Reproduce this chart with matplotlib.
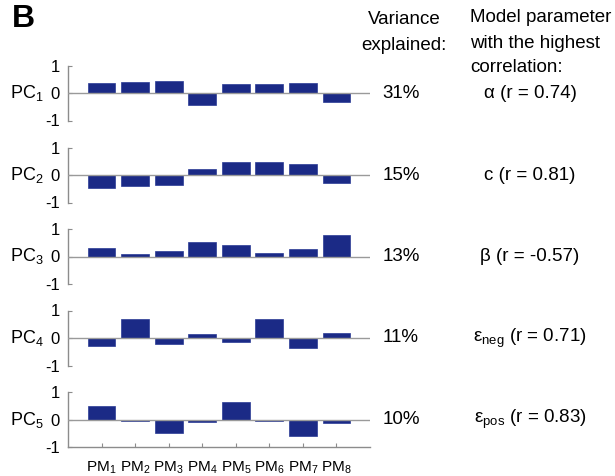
import matplotlib
matplotlib.use("Agg")
import matplotlib.pyplot as plt
import matplotlib.transforms as mtransforms

plt.rcParams['font.family'] = ['Liberation Sans', 'DejaVu Sans']
plt.rcParams['mathtext.fontset'] = 'custom'
plt.rcParams['mathtext.rm'] = 'Liberation Sans'
plt.rcParams['mathtext.it'] = 'Liberation Sans:italic'
plt.rcParams['mathtext.bf'] = 'Liberation Sans:bold'

categories = ['PM$_{1}$', 'PM$_{2}$', 'PM$_{3}$', 'PM$_{4}$',
              'PM$_{5}$', 'PM$_{6}$', 'PM$_{7}$', 'PM$_{8}$']
pc_labels = ['PC$_{1}$', 'PC$_{2}$', 'PC$_{3}$', 'PC$_{4}$', 'PC$_{5}$']
pc1 = [0.35, 0.39, 0.42, -0.44, 0.31, 0.34, 0.35, -0.32]
pc2 = [-0.46, -0.39, -0.35, 0.21, 0.49, 0.46, 0.41, -0.28]
pc3 = [0.31, 0.10, 0.20, 0.52, 0.42, 0.12, 0.26, 0.80]
pc4 = [-0.28, 0.70, -0.20, 0.15, -0.14, 0.68, -0.35, 0.17]
pc5 = [0.50, -0.04, -0.48, -0.10, 0.62, -0.05, -0.60, -0.12]
loadings = [pc1, pc2, pc3, pc4, pc5]
variance = ['31%', '15%', '13%', '11%', '10%']
params = ['α (r = 0.74)', 'c (r = 0.81)', 'β (r = -0.57)',
          'ε$_{\\mathregular{neg}}$ (r = 0.71)', 'ε$_{\\mathregular{pos}}$ (r = 0.83)']
yticks = [-1, 0, 1]
ytick_labels = ['-1', '0', '1']

W, H = 615, 476
fig = plt.figure(figsize=(W / 100, H / 100), dpi=100)

bar_color = '#1b2a86'
axis_gray = '#8c8c8c'
zero_px = [93, 175, 256.5, 338, 419.5]
half_h = 27.5
ax_left, ax_right = 68, 370

xs = list(range(1, len(categories) + 1))
for i, vals in enumerate(loadings):
    top = zero_px[i] - half_h
    ax = fig.add_axes([ax_left / W, 1 - (zero_px[i] + half_h) / H,
                       (ax_right - ax_left) / W, 2 * half_h / H])
    ax.bar(xs, vals, width=0.83, color=bar_color, edgecolor='#2a3a95',
           linewidth=0.5, zorder=2)
    ax.axhline(0, color='#9a9a9a', linewidth=1.0, zorder=3)
    ax.set_xlim(0, 9)
    ax.set_ylim(-1, 1)
    for s in ['top', 'right']:
        ax.spines[s].set_visible(False)
    ax.spines['left'].set_color(axis_gray)
    ax.spines['left'].set_linewidth(1.0)
    ax.set_yticks(yticks)
    ax.set_yticklabels(ytick_labels, fontsize=12)
    ax.tick_params(axis='y', direction='in', length=3, color=axis_gray, pad=6)
    if i < len(loadings) - 1:
        ax.spines['bottom'].set_visible(False)
        ax.set_xticks([])
    else:
        ax.spines['bottom'].set_color(axis_gray)
        ax.spines['bottom'].set_linewidth(1.0)
        ax.set_xticks(xs)
        ax.set_xticklabels(categories, fontsize=11)
        ax.tick_params(axis='x', direction='in', length=3, color=axis_gray, pad=9)
    trans = mtransforms.blended_transform_factory(fig.transFigure, ax.transData)
    fig.text(44 / W, 0, pc_labels[i], transform=trans, ha='right', va='center',
             fontsize=13)
    fig.text(401 / W, 0, variance[i], transform=trans, ha='center', va='center',
             fontsize=13.5)
    fig.text(530 / W, 0, params[i], transform=trans, ha='center', va='center',
             fontsize=13.5)

fig.text(12 / W, 1 - 19 / H, 'B', fontsize=23, fontweight='bold',
         ha='left', va='center')
fig.text(404 / W, 1 - 20 / H, 'Variance', fontsize=13.5, ha='center', va='center')
fig.text(404 / W, 1 - 45 / H, 'explained:', fontsize=13.5, ha='center', va='center')
fig.text(470 / W, 1 - 18 / H, 'Model parameter', fontsize=13.5, ha='left', va='center')
fig.text(470 / W, 1 - 43 / H, 'with the highest', fontsize=13.5, ha='left', va='center')
fig.text(470 / W, 1 - 67 / H, 'correlation:', fontsize=13.5, ha='left', va='center')

fig.savefig('out.png', dpi=100, facecolor='white')
